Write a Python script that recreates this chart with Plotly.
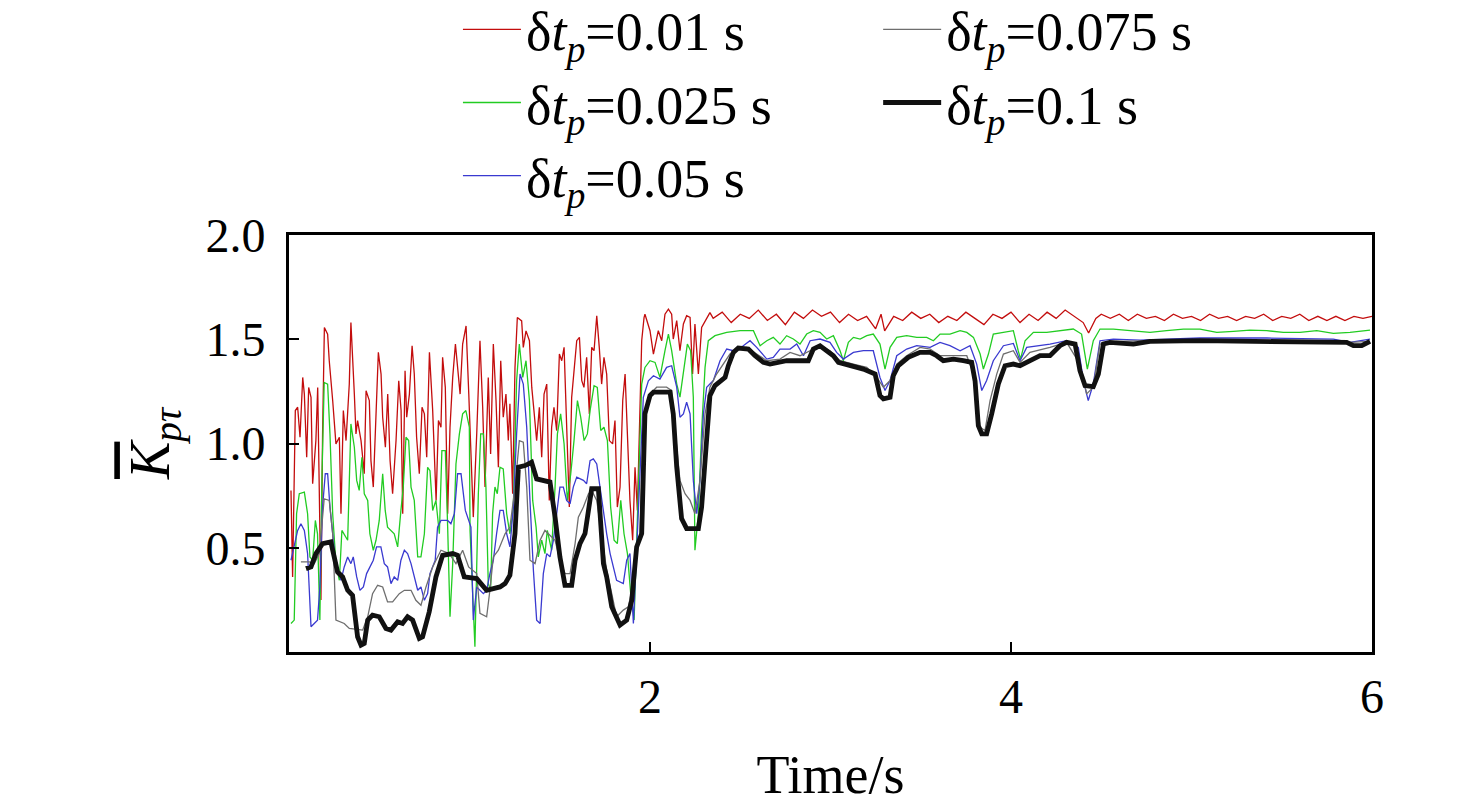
import plotly.graph_objs as go

# time (s) and averaged K_pτ for each δt_p
t_01 = [0.011, 0.02, 0.035, 0.048, 0.061, 0.076, 0.085, 0.098, 0.109, 0.122, 0.131, 0.149, 0.159, 0.168, 0.177,
        0.186, 0.196, 0.214, 0.223, 0.242, 0.26, 0.279, 0.288, 0.301, 0.316, 0.334, 0.343, 0.362, 0.371, 0.38,
        0.399, 0.417, 0.427, 0.445, 0.454, 0.467, 0.482, 0.495, 0.51, 0.519, 0.534, 0.547, 0.56, 0.574, 0.593,
        0.608, 0.621, 0.63, 0.643, 0.652, 0.667, 0.682, 0.694, 0.707, 0.722, 0.737, 0.75, 0.763, 0.778, 0.796,
        0.815, 0.828, 0.842, 0.851, 0.866, 0.879, 0.892, 0.907, 0.922, 0.935, 0.948, 0.962, 0.981, 0.996, 1.008,
        1.021, 1.04, 1.058, 1.073, 1.086, 1.104, 1.117, 1.132, 1.147, 1.16, 1.173, 1.187, 1.202, 1.215, 1.224,
        1.239, 1.252, 1.265, 1.289, 1.298, 1.313, 1.332, 1.345, 1.357, 1.372, 1.387, 1.4, 1.413, 1.428, 1.442,
        1.455, 1.468, 1.483, 1.498, 1.511, 1.524, 1.538, 1.553, 1.566, 1.579, 1.594, 1.609, 1.622, 1.634, 1.649,
        1.664, 1.677, 1.69, 1.705, 1.719, 1.732, 1.745, 1.76, 1.775, 1.793, 1.806, 1.819, 1.834, 1.849, 1.862,
        1.875, 1.889, 1.904, 1.917, 1.93, 1.945, 1.954, 1.967, 1.972, 2.0, 2.019, 2.046, 2.065, 2.083, 2.102,
        2.12, 2.129, 2.148, 2.166, 2.185, 2.203, 2.222, 2.236, 2.249, 2.268, 2.286, 2.314, 2.332, 2.35, 2.40,
        2.45, 2.50, 2.55, 2.60, 2.65, 2.70, 2.75, 2.80, 2.85, 2.90, 2.95, 3.00, 3.05, 3.10, 3.15, 3.20, 3.25,
        3.28, 3.30, 3.35, 3.40, 3.45, 3.50, 3.55, 3.60, 3.65, 3.70, 3.75, 3.80, 3.85, 3.90, 3.95, 4.00, 4.05,
        4.10, 4.15, 4.20, 4.25, 4.30, 4.35, 4.40, 4.43, 4.47, 4.50, 4.55, 4.60, 4.65, 4.70, 4.75, 4.80, 4.85,
        4.90, 4.95, 5.00, 5.05, 5.10, 5.15, 5.20, 5.25, 5.30, 5.35, 5.40, 5.45, 5.50, 5.55, 5.60, 5.65, 5.70,
        5.75, 5.80, 5.85, 5.90, 5.95, 6.00]
k_01 = [0.775, 0.36, 1.158, 1.174, 1.03, 1.317, 1.237, 0.934, 1.269, 1.221, 0.807, 1.014, 1.269, 0.743, 0.249,
        1.046, 1.556, 1.524, 1.397, 1.206, 0.998, 1.03, 0.663, 1.158, 1.014, 1.285, 1.58, 1.237, 1.046, 1.11,
        1.014, 0.855, 1.253, 1.206, 0.918, 0.791, 1.11, 1.437, 1.333, 1.126, 0.982, 1.237, 0.918, 0.759, 1.014,
        1.301, 1.158, 0.663, 1.349, 1.126, 1.237, 1.469, 1.333, 1.03, 0.855, 1.174, 1.142, 0.934, 1.437, 1.158,
        0.727, 1.11, 1.078, 1.413, 1.269, 0.663, 1.078, 1.317, 1.477, 1.365, 1.237, 1.477, 1.564, 1.237, 0.95,
        0.647, 1.046, 1.493, 1.174, 0.791, 1.317, 0.95, 1.477, 1.206, 0.886, 1.397, 1.126, 1.237, 1.014, 1.19,
        0.759, 1.365, 1.604, 1.588, 1.461, 1.54, 1.493, 1.269, 1.158, 1.014, 1.174, 0.934, 1.237, 1.285, 0.727,
        1.078, 1.174, 1.062, 1.429, 1.397, 1.461, 1.126, 0.695, 1.221, 1.365, 1.493, 1.509, 1.301, 1.269, 1.413,
        1.142, 1.461, 1.445, 1.612, 1.461, 1.285, 1.413, 1.333, 1.014, 0.998, 1.11, 0.695, 0.791, 1.206, 1.333,
        1.046, 0.727, 0.536, 0.886, 0.679, 1.206, 1.493, 1.604, 1.62, 1.541, 1.429, 1.541, 1.493, 1.62, 1.644,
        1.62, 1.501, 1.589, 1.445, 1.573, 1.613, 1.605, 1.333, 1.573, 1.333, 1.557, 1.605, 1.628, 1.60, 1.63,
        1.58, 1.62, 1.60, 1.64, 1.59, 1.62, 1.57, 1.63, 1.60, 1.64, 1.61, 1.63, 1.58, 1.62, 1.59, 1.61, 1.55,
        1.62, 1.54, 1.61, 1.59, 1.63, 1.60, 1.62, 1.58, 1.61, 1.59, 1.63, 1.60, 1.57, 1.62, 1.60, 1.63, 1.58,
        1.62, 1.59, 1.63, 1.60, 1.64, 1.61, 1.58, 1.53, 1.60, 1.62, 1.60, 1.62, 1.59, 1.62, 1.60, 1.61, 1.59,
        1.62, 1.60, 1.61, 1.59, 1.62, 1.60, 1.61, 1.59, 1.61, 1.60, 1.62, 1.59, 1.61, 1.60, 1.62, 1.59, 1.61,
        1.59, 1.61, 1.59, 1.61, 1.60, 1.61]

t_025 = [0.011, 0.029, 0.042, 0.057, 0.085, 0.103, 0.116, 0.131, 0.146, 0.158, 0.171, 0.183, 0.195, 0.214, 0.227,
         0.242, 0.26, 0.279, 0.293, 0.325, 0.343, 0.362, 0.375, 0.389, 0.404, 0.417, 0.436, 0.448, 0.467, 0.482,
         0.5, 0.519, 0.533, 0.546, 0.583, 0.602, 0.62, 0.633, 0.648, 0.663, 0.676, 0.694, 0.713, 0.731, 0.75,
         0.768, 0.781, 0.796, 0.814, 0.833, 0.847, 0.866, 0.879, 0.892, 0.907, 0.925, 0.944, 0.962, 0.98, 0.999,
         1.003, 1.021, 1.03, 1.049, 1.062, 1.077, 1.091, 1.104, 1.117, 1.128, 1.141, 1.154, 1.169, 1.187, 1.206,
         1.224, 1.243, 1.261, 1.276, 1.295, 1.313, 1.332, 1.35, 1.369, 1.381, 1.4, 1.418, 1.431, 1.455, 1.474,
         1.487, 1.505, 1.524, 1.542, 1.561, 1.579, 1.598, 1.616, 1.635, 1.653, 1.668, 1.69, 1.708, 1.727, 1.745,
         1.764, 1.782, 1.801, 1.819, 1.838, 1.856, 1.875, 1.893, 1.912, 1.926, 1.954, 1.972, 2.0, 2.028, 2.055,
         2.083, 2.102, 2.12, 2.148, 2.166, 2.185, 2.207, 2.225, 2.24, 2.249, 2.268, 2.286, 2.305, 2.323, 2.36,
         2.425, 2.499, 2.573, 2.61, 2.647, 2.683, 2.72, 2.757, 2.794, 2.831, 2.868, 2.905, 2.942, 2.979, 3.016,
         3.053, 3.071, 3.099, 3.127, 3.164, 3.201, 3.237, 3.274, 3.302, 3.33, 3.367, 3.422, 3.478, 3.533, 3.57,
         3.607, 3.662, 3.718, 3.755, 3.792, 3.829, 3.847, 3.875, 3.902, 3.958, 4.013, 4.04, 4.053, 4.078, 4.124,
         4.198, 4.271, 4.345, 4.391, 4.423, 4.456, 4.493, 4.567, 4.678, 4.77, 4.862, 4.955, 5.047, 5.14, 5.232,
         5.324, 5.417, 5.509, 5.601, 5.694, 5.786, 5.878, 5.989]
k_025 = [0.137, 0.153, 0.663, 0.759, 0.767, 0.663, 0.456, 0.44, 0.631, 0.567, 0.153, 0.855, 1.293, 1.285, 1.046,
         0.663, 0.424, 0.344, 0.583, 0.536, 1.094, 0.982, 0.823, 0.775, 0.934, 0.759, 0.727, 0.567, 0.488, 0.536,
         0.631, 0.855, 0.679, 0.599, 0.567, 0.504, 0.679, 0.791, 1.03, 1.014, 0.791, 0.727, 0.456, 0.456, 0.567,
         0.886, 0.87, 0.679, 0.727, 0.567, 0.966, 0.966, 0.599, 0.169, 0.424, 0.902, 1.046, 1.142, 1.158, 1.078,
         0.583, 0.217, 0.025, 0.759, 1.046, 1.046, 0.791, 0.328, 0.296, 0.663, 0.791, 0.759, 0.886, 0.878, 0.663,
         0.567, 0.695, 1.301, 1.477, 1.317, 1.397, 1.206, 0.727, 0.599, 0.456, 0.536, 0.472, 0.583, 0.488, 0.791,
         1.046, 1.142, 0.998, 0.727, 0.855, 1.014, 1.206, 1.126, 1.014, 1.046, 1.158, 1.277, 1.269, 1.062, 1.078,
         1.014, 0.695, 0.536, 0.52, 0.727, 0.567, 0.472, 0.28, 0.153, 0.567, 1.285, 1.365, 1.397, 1.389, 1.317,
         1.445, 1.525, 1.445, 1.286, 1.222, 1.333, 1.477, 1.445, 1.222, 0.488, 0.663, 1.062, 1.365, 1.493, 1.517,
         1.533, 1.541, 1.541, 1.469, 1.493, 1.509, 1.477, 1.517, 1.501, 1.477, 1.525, 1.541, 1.533, 1.501, 1.517,
         1.445, 1.397, 1.485, 1.509, 1.501, 1.517, 1.525, 1.477, 1.357, 1.461, 1.509, 1.517, 1.509, 1.509, 1.493,
         1.525, 1.525, 1.541, 1.533, 1.509, 1.429, 1.357, 1.429, 1.525, 1.533, 1.541, 1.445, 1.405, 1.493, 1.533,
         1.533, 1.541, 1.549, 1.525, 1.357, 1.493, 1.549, 1.549, 1.541, 1.533, 1.541, 1.549, 1.549, 1.533, 1.538,
         1.544, 1.541, 1.533, 1.533, 1.541, 1.528, 1.533, 1.544]

t_05 = [0.011, 0.024, 0.048, 0.066, 0.085, 0.103, 0.122, 0.158, 0.171, 0.186, 0.201, 0.214, 0.227, 0.242, 0.256,
        0.288, 0.306, 0.325, 0.343, 0.356, 0.375, 0.393, 0.412, 0.43, 0.467, 0.485, 0.509, 0.528, 0.546, 0.565,
        0.583, 0.602, 0.62, 0.639, 0.657, 0.676, 0.694, 0.713, 0.731, 0.75, 0.768, 0.781, 0.81, 0.823, 0.842,
        0.879, 0.897, 0.916, 0.934, 0.953, 0.977, 1.008, 1.021, 1.04, 1.077, 1.095, 1.113, 1.132, 1.15, 1.169,
        1.187, 1.206, 1.224, 1.243, 1.261, 1.28, 1.298, 1.317, 1.335, 1.354, 1.372, 1.391, 1.409, 1.428, 1.446,
        1.465, 1.483, 1.501, 1.52, 1.538, 1.557, 1.575, 1.594, 1.631, 1.649, 1.668, 1.686, 1.705, 1.723, 1.742,
        1.76, 1.779, 1.797, 1.815, 1.852, 1.871, 1.889, 1.908, 1.926, 1.945, 1.963, 1.991, 2.019, 2.055, 2.092,
        2.12, 2.148, 2.166, 2.185, 2.203, 2.222, 2.24, 2.259, 2.277, 2.296, 2.314, 2.351, 2.388, 2.425, 2.462,
        2.517, 2.554, 2.591, 2.647, 2.683, 2.72, 2.776, 2.813, 2.85, 2.887, 2.942, 2.997, 3.034, 3.071, 3.127,
        3.182, 3.237, 3.274, 3.302, 3.33, 3.367, 3.422, 3.478, 3.552, 3.607, 3.662, 3.718, 3.773, 3.81, 3.838,
        3.865, 3.902, 3.958, 4.013, 4.05, 4.087, 4.161, 4.216, 4.308, 4.373, 4.401, 4.428, 4.456, 4.493, 4.567,
        4.715, 4.862, 5.047, 5.417, 5.786, 5.878, 5.989]
k_05 = [0.44, 0.488, 0.583, 0.615, 0.583, 0.472, 0.121, 0.153, 0.312, 0.695, 0.855, 0.855, 0.695, 0.567, 0.44,
        0.344, 0.408, 0.456, 0.424, 0.456, 0.36, 0.296, 0.312, 0.376, 0.44, 0.504, 0.504, 0.424, 0.408, 0.328,
        0.36, 0.344, 0.44, 0.488, 0.472, 0.424, 0.36, 0.296, 0.312, 0.248, 0.28, 0.376, 0.44, 0.599, 0.631,
        0.631, 0.615, 0.663, 0.855, 0.855, 0.679, 0.599, 0.153, 0.312, 0.28, 0.296, 0.376, 0.44, 0.567, 0.679,
        0.679, 0.567, 0.504, 0.695, 1.046, 1.333, 1.285, 1.078, 0.727, 0.392, 0.153, 0.137, 0.376, 0.472, 0.456,
        0.536, 0.663, 0.791, 0.791, 0.727, 0.711, 0.791, 0.839, 0.823, 0.807, 0.918, 0.926, 0.902, 0.791, 0.663,
        0.567, 0.472, 0.408, 0.344, 0.328, 0.44, 0.472, 0.137, 0.488, 0.886, 1.221, 1.301, 1.325, 1.309, 1.365,
        1.373, 1.27, 1.126, 1.142, 1.198, 1.142, 0.823, 0.663, 0.823, 1.142, 1.27, 1.302, 1.397, 1.453, 1.445,
        1.469, 1.493, 1.461, 1.405, 1.413, 1.453, 1.453, 1.477, 1.421, 1.493, 1.501, 1.485, 1.437, 1.405, 1.437,
        1.445, 1.445, 1.317, 1.254, 1.302, 1.421, 1.453, 1.469, 1.461, 1.485, 1.469, 1.445, 1.469, 1.381, 1.254,
        1.302, 1.397, 1.469, 1.48, 1.397, 1.461, 1.469, 1.477, 1.493, 1.461, 1.302, 1.206, 1.286, 1.493, 1.501,
        1.496, 1.501, 1.506, 1.506, 1.501, 1.485, 1.501]

t_075 = [0.066, 0.112, 0.14, 0.168, 0.195, 0.223, 0.242, 0.26, 0.306, 0.334, 0.408, 0.436, 0.463, 0.491, 0.519,
         0.546, 0.574, 0.611, 0.639, 0.676, 0.703, 0.731, 0.759, 0.796, 0.842, 0.888, 0.925, 0.962, 0.995, 1.04,
         1.058, 1.095, 1.113, 1.132, 1.16, 1.197, 1.224, 1.252, 1.276, 1.298, 1.317, 1.335, 1.363, 1.391, 1.418,
         1.474, 1.501, 1.529, 1.557, 1.585, 1.603, 1.631, 1.659, 1.677, 1.705, 1.732, 1.76, 1.788, 1.815, 1.852,
         1.88, 1.899, 1.917, 1.945, 1.963, 2.0, 2.028, 2.037, 2.092, 2.12, 2.139, 2.166, 2.194, 2.222, 2.249,
         2.277, 2.305, 2.332, 2.369, 2.406, 2.443, 2.48, 2.536, 2.591, 2.647, 2.72, 2.776, 2.831, 2.887, 2.942,
         2.997, 3.053, 3.127, 3.201, 3.256, 3.293, 3.33, 3.367, 3.422, 3.496, 3.552, 3.607, 3.755, 3.792, 3.829,
         3.856, 3.884, 3.921, 3.958, 4.013, 4.05, 4.105, 4.216, 4.308, 4.382, 4.419, 4.456, 4.493, 4.585, 4.862,
         5.417, 5.878, 5.989]
k_075 = [0.432, 0.432, 0.424, 0.472, 0.735, 0.727, 0.567, 0.153, 0.137, 0.113, 0.105, 0.169, 0.28, 0.32, 0.312,
         0.24, 0.24, 0.28, 0.296, 0.296, 0.248, 0.224, 0.312, 0.408, 0.488, 0.472, 0.424, 0.488, 0.408, 0.376,
         0.185, 0.169, 0.296, 0.456, 0.488, 0.567, 0.599, 0.791, 1.014, 1.006, 0.791, 0.44, 0.424, 0.536, 0.583,
         0.536, 0.44, 0.376, 0.376, 0.52, 0.647, 0.695, 0.759, 0.775, 0.727, 0.567, 0.392, 0.28, 0.169, 0.201,
         0.217, 0.296, 0.472, 0.567, 1.11, 1.237, 1.261, 1.27, 1.27, 1.254, 1.062, 0.823, 0.759, 0.727, 0.663,
         0.823, 1.142, 1.27, 1.333, 1.381, 1.429, 1.453, 1.461, 1.429, 1.397, 1.405, 1.437, 1.421, 1.445, 1.469,
         1.445, 1.397, 1.381, 1.365, 1.317, 1.27, 1.302, 1.381, 1.421, 1.461, 1.453, 1.421, 1.421, 1.333, 1.078,
         1.062, 1.206, 1.333, 1.429, 1.445, 1.389, 1.437, 1.461, 1.485, 1.381, 1.238, 1.27, 1.477, 1.49, 1.496,
         1.493, 1.485, 1.49]

t_1 = [0.094, 0.122, 0.149, 0.186, 0.232, 0.251, 0.269, 0.297, 0.325, 0.352, 0.38, 0.399, 0.417, 0.436, 0.463,
       0.5, 0.537, 0.565, 0.602, 0.629, 0.657, 0.685, 0.722, 0.74, 0.777, 0.814, 0.851, 0.907, 0.934, 0.971,
       1.04, 1.095, 1.132, 1.169, 1.197, 1.224, 1.252, 1.271, 1.308, 1.344, 1.372, 1.446, 1.474, 1.501, 1.529,
       1.566, 1.585, 1.612, 1.64, 1.659, 1.677, 1.714, 1.742, 1.76, 1.788, 1.834, 1.871, 1.899, 1.926, 1.954,
       1.972, 2.0, 2.019, 2.111, 2.129, 2.148, 2.175, 2.203, 2.268, 2.286, 2.314, 2.332, 2.36, 2.416, 2.434,
       2.462, 2.489, 2.545, 2.582, 2.628, 2.665, 2.757, 2.877, 2.905, 2.942, 2.979, 3.016, 3.044, 3.081, 3.182,
       3.247, 3.274, 3.293, 3.33, 3.348, 3.376, 3.431, 3.496, 3.552, 3.588, 3.625, 3.681, 3.736, 3.782, 3.801,
       3.819, 3.838, 3.865, 3.893, 3.93, 3.967, 4.013, 4.05, 4.105, 4.161, 4.216, 4.271, 4.308, 4.355, 4.382,
       4.41, 4.456, 4.484, 4.512, 4.548, 4.678, 4.77, 5.047, 5.417, 5.86, 5.897, 5.943, 5.989]
k_1 = [0.40, 0.408, 0.472, 0.52, 0.528, 0.456, 0.384, 0.36, 0.296, 0.272, 0.073, 0.033, 0.041, 0.153, 0.177,
       0.169, 0.113, 0.105, 0.145, 0.137, 0.169, 0.153, 0.065, 0.073, 0.193, 0.36, 0.464, 0.472, 0.464, 0.36,
       0.352, 0.296, 0.304, 0.312, 0.328, 0.368, 0.568, 0.886, 0.894, 0.91, 0.83, 0.815, 0.647, 0.456, 0.32,
       0.32, 0.44, 0.52, 0.568, 0.663, 0.783, 0.783, 0.424, 0.36, 0.217, 0.129, 0.153, 0.248, 0.504, 0.568,
       1.142, 1.23, 1.246, 1.246, 1.142, 0.887, 0.64, 0.592, 0.592, 0.695, 0.983, 1.23, 1.278, 1.317, 1.373,
       1.437, 1.458, 1.453, 1.421, 1.389, 1.381, 1.397, 1.397, 1.453, 1.469, 1.445, 1.421, 1.389, 1.381, 1.357,
       1.333, 1.23, 1.214, 1.222, 1.325, 1.373, 1.413, 1.437, 1.437, 1.421, 1.397, 1.405, 1.397, 1.389, 1.30,
       1.086, 1.046, 1.046, 1.142, 1.286, 1.373, 1.381, 1.373, 1.397, 1.421, 1.421, 1.469, 1.485, 1.477, 1.349,
       1.278, 1.273, 1.333, 1.477, 1.485, 1.477, 1.49, 1.493, 1.488, 1.485, 1.469, 1.469, 1.49]

series = [
    (t_01, k_01, '#c30d0d', 1.3, '0.01', 'legend'),
    (t_025, k_025, '#22cc22', 1.3, '0.025', 'legend'),
    (t_05, k_05, '#3a3ad0', 1.3, '0.05', 'legend'),
    (t_075, k_075, '#6e6e6e', 1.3, '0.075', 'legend2'),
    (t_1, k_1, '#111111', 4.8, '0.1', 'legend2'),
]

font_family = 'Liberation Serif, Times New Roman, serif'


def add_series(fig, t, k, color, width, step, legend):
    fig.add_trace(go.Scatter(
        x=t, y=k, mode='lines',
        line=dict(color=color, width=width),
        name='\u03b4<i>t</i><sub><i>p</i></sub>=' + step + ' s',
        legend=legend
    ))


fig = go.Figure()
for s in series:
    add_series(fig, *s)

legend_style = dict(
    orientation='v', yanchor='top', xanchor='left',
    font=dict(family=font_family, size=54, color='black'),
    bgcolor='rgba(0,0,0,0)', itemwidth=58, itemclick=False
)

# the page body adds an 8px offset, so margins are set 8px smaller on top/left
fig.update_layout(
    width=1476, height=810,
    margin=dict(l=281, r=112, t=227, b=166, autoexpand=False),
    paper_bgcolor='white', plot_bgcolor='white',
    font=dict(family=font_family, color='black'),
    showlegend=True,
    legend=dict(x=0.156, y=1.593, **legend_style),
    legend2=dict(x=0.544, y=1.593, **legend_style),
    xaxis=dict(
        range=[0, 6], tickvals=[2, 4, 6],
        ticks='inside', ticklen=10, tickwidth=2, tickcolor='black',
        showline=True, linewidth=3, linecolor='black', mirror=True,
        showgrid=False, zeroline=False,
        tickfont=dict(family=font_family, size=48, color='black'),
        title=dict(text='Time/s', font=dict(family=font_family, size=54), standoff=34)
    ),
    yaxis=dict(
        range=[0, 2], tickvals=[0.5, 1.0, 1.5, 2.0], tickformat='.1f',
        ticks='inside', ticklen=10, tickwidth=2, tickcolor='black',
        showline=True, linewidth=3, linecolor='black', mirror=True,
        showgrid=False, zeroline=False, ticklabelstandoff=11,
        tickfont=dict(family=font_family, size=48, color='black'),
        title=dict(text='<span style="text-decoration:overline"><i>K</i></span><sub><i>p\u03c4</i></sub>',
                   font=dict(family=font_family, size=56), standoff=18)
    )
)

fig.write_html("out.html")
